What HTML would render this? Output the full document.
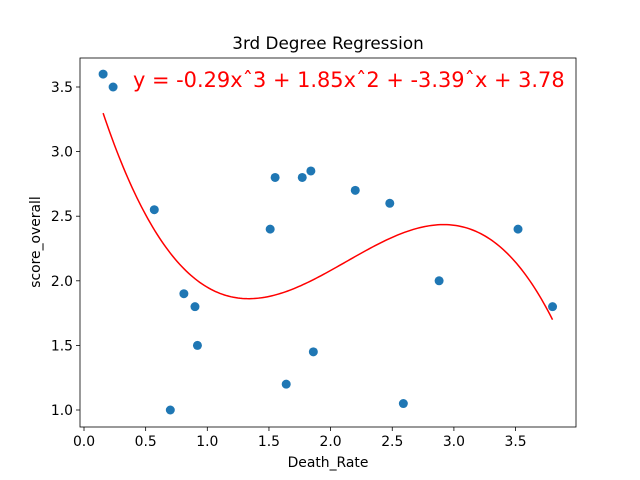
<!DOCTYPE html>
<html><head><meta charset="utf-8"><style>
body{margin:0;background:#fff;}
svg{display:block;font-family:"DejaVu Sans","Liberation Sans",sans-serif;}
</style></head><body>
<svg id="chart" width="640" height="480" xmlns="http://www.w3.org/2000/svg"></svg>
<script>
const xValues=[0.155,0.236,0.57,0.81,0.90,0.92,0.70,1.51,1.55,1.64,1.77,1.84,1.86,2.20,2.48,2.59,2.88,3.52,3.80];
const yValues=[3.60,3.50,2.55,1.90,1.80,1.50,1.00,2.40,2.80,1.20,2.80,2.85,1.45,2.70,2.60,1.05,2.00,2.40,1.80];
const coeffs=[-0.29,1.85,-3.39,3.78];
const xTicks=[0.0,0.5,1.0,1.5,2.0,2.5,3.0,3.5];
const yTicks=[1.0,1.5,2.0,2.5,3.0,3.5];
const xTickLabels=["0.0","0.5","1.0","1.5","2.0","2.5","3.0","3.5"];
const yTickLabels=["1.0","1.5","2.0","2.5","3.0","3.5"];

const L=80,R=576,T=58,B=427;
const xMin=-0.0325,xMax=(576-84)/123.3, yMin=1.0-(427-410)/129.2, yMax=3.5+(87-58)/129.2;
const sx=v=>L+(v-xMin)/(xMax-xMin)*(R-L);
const sy=v=>B-(v-yMin)/(yMax-yMin)*(B-T);
const svg=document.getElementById('chart');
const NS='http://www.w3.org/2000/svg';
function mk(tag,attrs,parent){const e=document.createElementNS(NS,tag);for(const k in attrs)e.setAttribute(k,attrs[k]);(parent||svg).appendChild(e);return e;}

const title=mk('text',{x:328,y:49,'text-anchor':'middle','font-size':16.8});
title.textContent='3rd Degree Regression';



xTicks.forEach((t,i)=>{
  const x=sx(t);
  const tk=mk('line',{x1:x,x2:x,y1:B,y2:B+4,stroke:'#000','stroke-width':0.8});
  
  
  const lb=mk('text',{x:x,y:B+19,'text-anchor':'middle','font-size':13.9});
  lb.textContent=xTickLabels[i];
  
  
});
yTicks.forEach((t,i)=>{
  const y=sy(t);
  const tk=mk('line',{x1:L-4,x2:L,y1:y,y2:y,stroke:'#000','stroke-width':0.8});
  
  
  const lb=mk('text',{x:L-7,y:y+5,'text-anchor':'end','font-size':13.9});
  lb.textContent=yTickLabels[i];
  
  
});

const xl=mk('text',{x:328,y:467,'text-anchor':'middle','font-size':13.9});
xl.textContent='Death_Rate';


const yl=mk('text',{x:0,y:0,'text-anchor':'middle','font-size':13.9,transform:'translate(40,242) rotate(-90)'});
yl.textContent='score_overall';



xValues.forEach((v,i)=>{
  const c=mk('circle',{cx:sx(v),cy:sy(yValues[i]),r:4.5,fill:'#1f77b4'});
  
  
});

const x0=Math.min(...xValues),x1=Math.max(...xValues);
let d='';
for(let k=0;k<=200;k++){
  const x=x0+(x1-x0)*k/200;
  const y=coeffs[0]*x*x*x+coeffs[1]*x*x+coeffs[2]*x+coeffs[3];
  d+=(k?'L':'M')+sx(x).toFixed(2)+','+sy(y).toFixed(2);
}
const curve=mk('path',{d:d,fill:'none',stroke:'red','stroke-width':1.5});



const eq=mk('text',{x:133,y:87,'font-size':20.9,fill:'red'});
eq.textContent='y = '+coeffs[0]+'xˆ3 + '+coeffs[1]+'xˆ2 + '+coeffs[2]+'ˆx + '+coeffs[3];



const frame=mk('rect',{x:L,y:T,width:R-L,height:B-T,fill:'none',stroke:'#000','stroke-width':0.8});


</script>
</body></html>
